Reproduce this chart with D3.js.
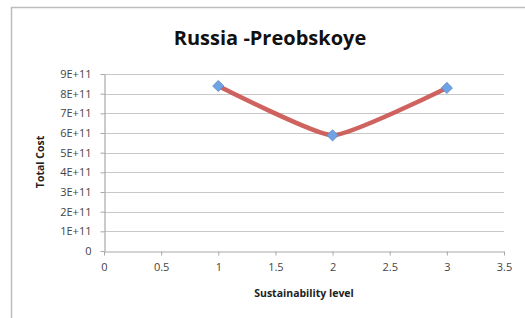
<!DOCTYPE html>
<html>
<head>
<meta charset="utf-8">
<script src="https://cdn.jsdelivr.net/npm/d3@7"></script>
<style>
  body { margin: 0; background: #fff; }
  text { font-family: "Open Sans", "Liberation Sans", sans-serif; }
</style>
</head>
<body>
<svg id="chart" width="525" height="318"></svg>
<script>
// data
var levels = [1, 2, 3];
var costs = [8.39e11, 5.88e11, 8.29e11];
var yTicks = [0, 1e11, 2e11, 3e11, 4e11, 5e11, 6e11, 7e11, 8e11, 9e11];
var yTickLabels = ["0", "1E+11", "2E+11", "3E+11", "4E+11", "5E+11", "6E+11", "7E+11", "8E+11", "9E+11"];
var xTicks = [0, 0.5, 1, 1.5, 2, 2.5, 3, 3.5];

var svg = d3.select("#chart");

// frame of the chart object
svg.append("rect")
    .attr("x", 11.5).attr("y", 7.5)
    .attr("width", 530).attr("height", 330)
    .attr("fill", "none")
    .attr("stroke", "#bdbdbd")
    .attr("stroke-width", 1.5);

var x = d3.scaleLinear().domain([0, 3.5]).range([104, 504]);
var y = d3.scaleLinear().domain([0, 9e11]).range([251, 74]);

// gridlines
svg.append("g")
    .selectAll("line")
    .data(yTicks.slice(1))
  .enter().append("line")
    .attr("x1", x(0)).attr("x2", x(3.5))
    .attr("y1", d => Math.round(y(d)) + 0.5)
    .attr("y2", d => Math.round(y(d)) + 0.5)
    .attr("stroke", "#c8c8c8")
    .attr("stroke-width", 1.2);

var yAxis = svg.append("g")
    .attr("transform", "translate(" + (x(0) + 0.5) + ",0)")
    .call(d3.axisLeft(y).tickValues(yTicks)
        .tickFormat((d, i) => yTickLabels[i])
        .tickSizeInner(4).tickSizeOuter(0).tickPadding(9));

var xAxis = svg.append("g")
    .attr("transform", "translate(0," + (y(0) + 0.5) + ")")
    .call(d3.axisBottom(x).tickValues(xTicks)
        .tickFormat(d3.format("~g"))
        .tickSizeInner(4).tickSizeOuter(0).tickPadding(8));

[yAxis, xAxis].forEach(function(a) {
    a.select(".domain").attr("stroke", "#a8a8a8").attr("stroke-width", 1.2);
    a.selectAll(".tick line").attr("stroke", "#a8a8a8");
    a.selectAll(".tick text")
        .attr("fill", "#444")
        .style("font-size", "11px")
        .style("font-family", "'Open Sans', sans-serif");
});

// smoothed series line
var pts = levels.map((d, i) => [d, costs[i]]);
var line = d3.line()
    .x(d => x(d[0]))
    .y(d => y(d[1]))
    .curve(d3.curveCardinal.tension(0.55));

svg.append("path")
    .datum(pts)
    .attr("d", line)
    .attr("fill", "none")
    .attr("stroke", "#c9524e")
    .attr("stroke-width", 4.5)
    .attr("stroke-linecap", "round")
    .attr("opacity", 0.9);

// diamond markers
svg.append("g")
    .selectAll("path")
    .data(pts)
  .enter().append("path")
    .attr("transform", d => "translate(" + x(d[0]) + "," + y(d[1]) + ")")
    .attr("d", d3.symbol().type(d3.symbolDiamond2).size(80))
    .attr("fill", "#6fa3e6")
    .attr("stroke", "#5a86c4")
    .attr("stroke-width", 0.8);

// titles
svg.append("text")
    .attr("x", 270).attr("y", 45)
    .attr("text-anchor", "middle")
    .style("font-size", "20px")
    .style("font-weight", "bold")
    .attr("fill", "#111")
    .text("Russia -Preobskoye");

svg.append("text")
    .attr("x", x(1.75)).attr("y", 297)
    .attr("text-anchor", "middle")
    .style("font-size", "10.5px")
    .style("font-weight", "bold")
    .attr("fill", "#222")
    .text("Sustainability level");

svg.append("text")
    .attr("transform", "translate(44,162) rotate(-90)")
    .attr("text-anchor", "middle")
    .style("font-size", "10.5px")
    .style("font-weight", "bold")
    .attr("fill", "#222")
    .text("Total Cost");
</script>
</body>
</html>
